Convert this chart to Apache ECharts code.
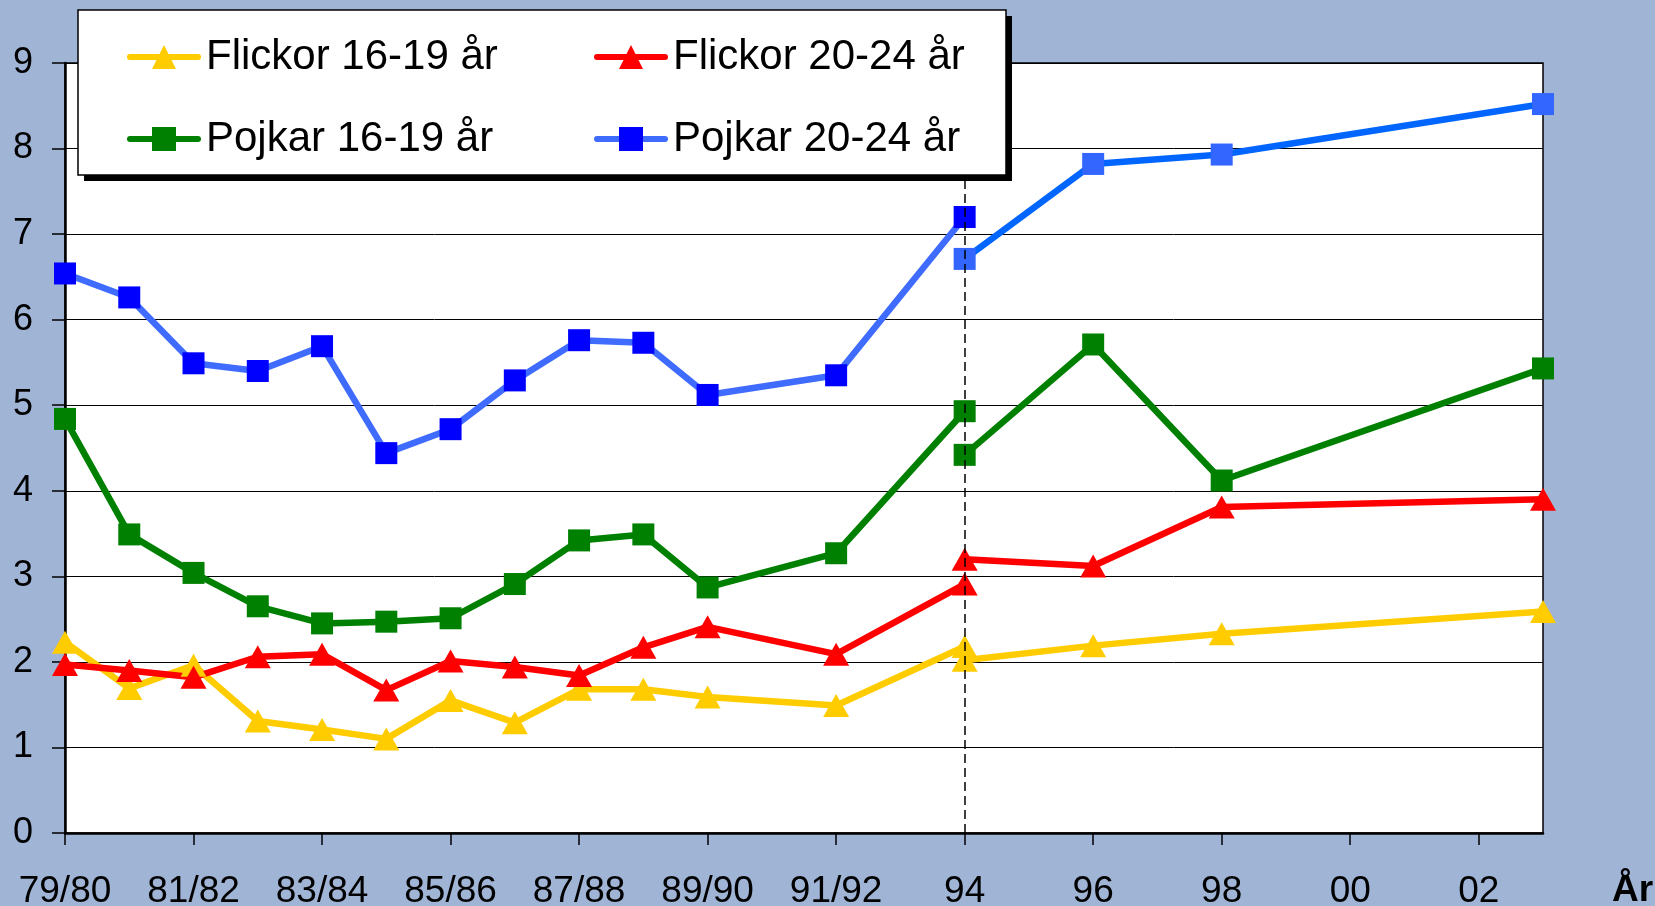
<!DOCTYPE html>
<html>
<head>
<meta charset="utf-8">
<script src="https://cdn.jsdelivr.net/npm/echarts@6/dist/echarts.min.js"></script>
<style>
    html, body { margin: 0; padding: 0; background: #a0b4d5; }
    #chart { width: 1655px; height: 906px; }
</style>
</head>
<body>
<div id="chart"></div>
<script>
// läsår / år på x-axeln (bara varannan etikett visas)
const years = ['79/80','80/81','81/82','82/83','83/84','84/85','85/86','86/87','87/88','88/89','89/90','90/91',
               '91/92','93','94','95','96','97','98','99','00','01','02','03']

const names = ['Flickor 16-19 år', 'Flickor 20-24 år', 'Pojkar 16-19 år', 'Pojkar 20-24 år']

// gamla serien (t.o.m. 94)
const flickor1619Old = [2.23,1.69,1.96,1.31,1.21,1.10,1.55,1.29,1.68,1.68,1.59,null,1.49,null,2.18]
const flickor2024Old = [1.97,1.90,1.82,2.06,2.09,1.67,2.01,1.94,1.84,2.17,2.41,null,2.09,null,2.91]
const pojkar1619Old  = [4.84,3.49,3.04,2.65,2.45,2.47,2.51,2.91,3.42,3.49,2.87,null,3.27,null,4.93]
const pojkar2024Old  = [6.54,6.26,5.49,5.40,5.69,4.44,4.72,5.29,5.76,5.73,5.12,null,5.35,null,7.20]

// nya serien (fr.o.m. 94)
const flickor1619New = [null,null,null,null,null,null,null,null,null,null,null,null,null,null,2.02,null,2.19,null,2.33,null,null,null,null,2.59]
const flickor2024New = [null,null,null,null,null,null,null,null,null,null,null,null,null,null,3.20,null,3.12,null,3.81,null,null,null,null,3.90]
const pojkar1619New  = [null,null,null,null,null,null,null,null,null,null,null,null,null,null,4.42,null,5.71,null,4.12,null,null,null,null,5.43]
const pojkar2024New  = [null,null,null,null,null,null,null,null,null,null,null,null,null,null,6.71,null,7.82,null,7.93,null,null,null,null,8.52]

const yTicks = [0,1,2,3,4,5,6,7,8,9]

!function(){

    const font = '"Liberation Sans", Arial, sans-serif'
    const chart = echarts.init(document.getElementById('chart'))

    // en linje med markörer
    function line(name, data, lineColor, markColor, symbol){
        return {
            name: name,
            type: 'line',
            data: data,
            connectNulls: true,
            showAllSymbol: true,
            symbol: symbol,
            symbolSize: symbol == 'rect' ? 22 : [26, 23],
            lineStyle: { color: lineColor, width: 6.5, cap: 'round', join: 'round' },
            itemStyle: { color: markColor },
            emphasis: { disabled: true },
            animation: false
        }
    }

    const series = [
        line(names[0], flickor1619Old, '#ffcc00', '#ffcc00', 'triangle'),
        line(names[0], flickor1619New, '#ffcc00', '#ffcc00', 'triangle'),
        line(names[1], flickor2024Old, '#ff0000', '#ff0000', 'triangle'),
        line(names[1], flickor2024New, '#ff0000', '#ff0000', 'triangle'),
        line(names[2], pojkar1619Old, '#008000', '#008000', 'rect'),
        line(names[2], pojkar1619New, '#008000', '#008000', 'rect'),
        line(names[3], pojkar2024Old, '#3f6bff', '#0000ff', 'rect'),
        line(names[3], pojkar2024New, '#0066ff', '#3366ff', 'rect')
    ]

    // streckad linje vid 94
    series[series.length - 1].markLine = {
        silent: true,
        symbol: 'none',
        animation: false,
        label: { show: false },
        lineStyle: { color: '#000', type: [9, 5], width: 1.5 },
        data: [{ xAxis: '94' }]
    }

    // förklaring, en kolumn per åldersgrupp
    function legend(data, left){
        return {
            data: data,
            left: left,
            top: 36,
            z: 8,
            orient: 'vertical',
            padding: 0,
            itemGap: 40,
            itemWidth: 68,
            itemHeight: 30,
            selectedMode: false,
            lineStyle: { width: 6, cap: 'round' },
            textStyle: { fontSize: 42, color: '#000', fontFamily: font, padding: [0, 0, 0, 3] }
        }
    }

    const option = {
        backgroundColor: '#a0b4d5',
        textStyle: { fontFamily: font },
        grid: {
            left: 65, right: 112, top: 63, bottom: 73,
            outerBoundsMode: 'none',
            containLabel: false,
            show: true,
            backgroundColor: '#fff',
            borderColor: '#000',
            borderWidth: 1.5
        },
        // ram med skugga bakom förklaringen
        graphic: [
            { type: 'rect', z: 7, silent: true, shape: { x: 84, y: 16, width: 928, height: 165 }, style: { fill: '#000' } },
            { type: 'rect', z: 7, silent: true, shape: { x: 78, y: 10, width: 928, height: 165 }, style: { fill: '#fff', stroke: '#000', lineWidth: 1.5 } }
        ],
        legend: [
            legend([names[0], names[2]], 127),
            legend([names[1], names[3]], 594)
        ],
        xAxis: {
            type: 'category',
            data: years,
            boundaryGap: false,
            name: 'År',
            nameLocation: 'end',
            nameGap: 69,
            nameTextStyle: {
                fontSize: 37, fontWeight: 'bold', color: '#000', fontFamily: font,
                verticalAlign: 'top', padding: [39, 0, 0, 0]
            },
            axisLine: { lineStyle: { color: '#000', width: 2.5 } },
            axisTick: { interval: 1, length: 12, lineStyle: { color: '#000', width: 1.5 } },
            axisLabel: { interval: 1, color: '#000', fontSize: 37, margin: 40, fontFamily: font },
            splitLine: { show: false }
        },
        yAxis: {
            type: 'value',
            min: yTicks[0],
            max: yTicks[yTicks.length - 1],
            interval: 1,
            axisLine: { show: true, lineStyle: { color: '#000', width: 2.5 } },
            axisTick: { show: true, length: 13, lineStyle: { color: '#000', width: 1.5 } },
            axisLabel: { color: '#000', fontSize: 36, margin: 32, fontFamily: font },
            splitLine: { lineStyle: { color: '#000', width: 1 } }
        },
        series: series
    }

    chart.setOption(option)

}()
</script>
</body>
</html>
